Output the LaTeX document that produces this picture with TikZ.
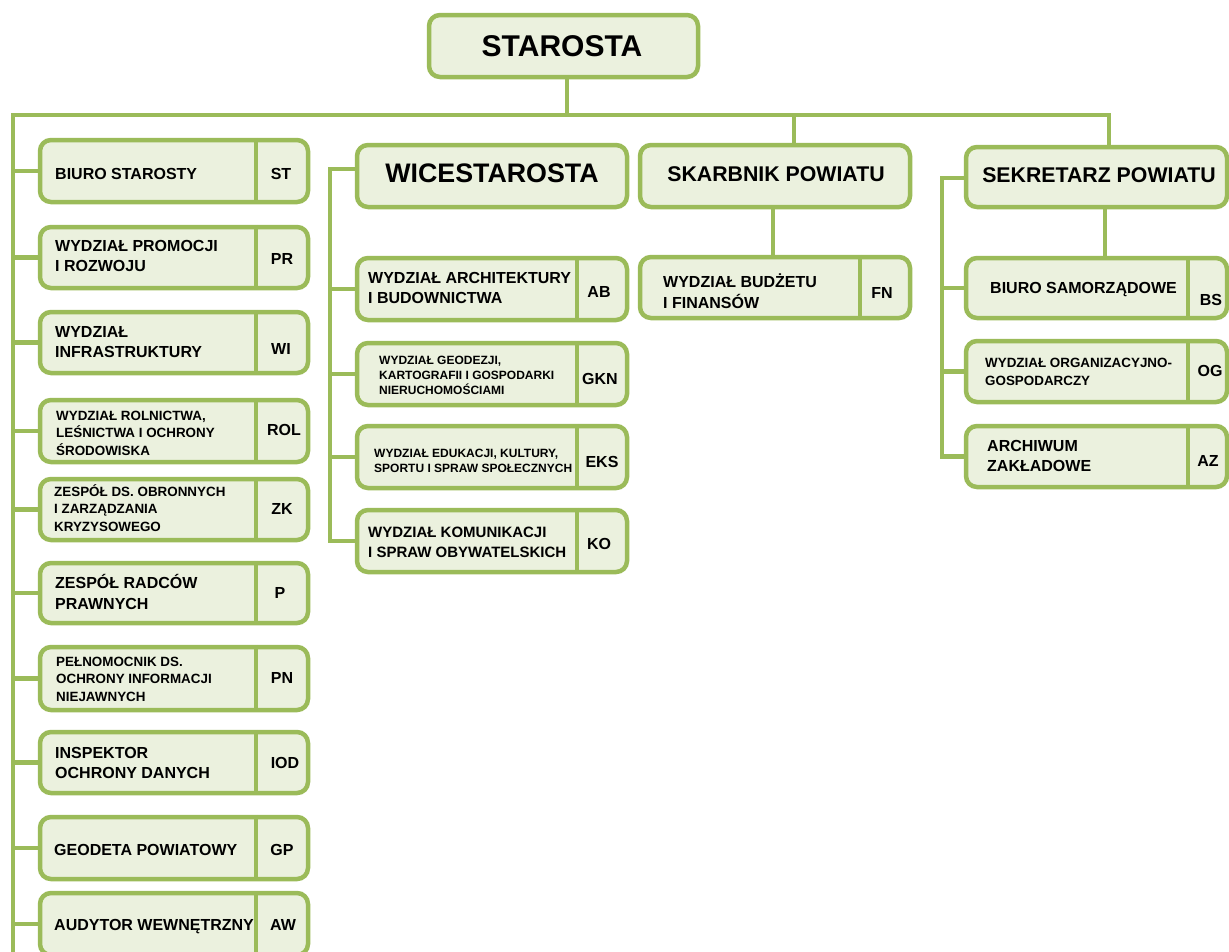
\documentclass[tikz,border=0pt]{standalone}
\usepackage{fontspec}
\setmainfont{Liberation Sans}
\definecolor{grn}{HTML}{9BBB59}
\definecolor{pale}{HTML}{EBF1DE}
\newcommand\orgfL{\bfseries\fontsize{16}{20.5}\selectfont}
\newcommand\orgfS{\bfseries\fontsize{13.4}{17.5}\selectfont}
\newcommand\orgfXS{\bfseries\fontsize{12}{15}\selectfont}
\tikzset{
 boxsty/.style={draw=grn, fill=pale, line width=4.5pt, rounded corners=11pt, inner sep=0pt},
 conn/.style={draw=grn, line width=4.5pt, line join=miter},
 divsty/.style={draw=grn, line width=4.5pt},
 lbl/.style={anchor=west, align=left, inner sep=0pt},
 abb/.style={inner sep=0pt, font=\bfseries\fontsize{16}{18}\selectfont},
 head/.style={inner sep=0pt},
}
\newcommand\orgbox[5]{\node[boxsty, minimum width={#4pt-#2pt}, minimum height={#5pt-#3pt}] (#1) at ({(#2+#4)/2},{(#3+#5)/2}) {};}
\newcommand\orgdiv[2]{\draw[divsty] (#2,0 |- #1.north) -- (#2,0 |- #1.south);}
\begin{document}
\begin{tikzpicture}[x=1pt,y=-1pt]
\useasboundingbox (0,0) rectangle (1229,951);
\clip (0,0) rectangle (1229,951);
% junction coordinates
\coordinate (barL) at (13,115);
\coordinate (barR) at (1109,115);
\coordinate (spineEnd) at (13,960);
\coordinate (wiceSpine) at (330,169);
\coordinate (sekrSpine) at (942,178);

% ---------- top ----------
\orgbox{staro}{429}{15}{698}{77}
\node[head, font=\bfseries\fontsize{30}{32}\selectfont] (starot) at (562,46) {STAROSTA};

% ---------- left column ----------
\orgbox{st}{40}{140}{308}{202}\orgdiv{st}{256}
\node[lbl, font=\orgfL] (stt) at (55,174) {BIURO STAROSTY};
\node[abb] (sta) at (281,174) {ST};

\orgbox{pr}{40}{227}{308}{288}\orgdiv{pr}{256}
\node[lbl, font=\orgfL] (prt) at (55,256) {WYDZIAŁ PROMOCJI\\I ROZWOJU};
\node[abb] (pra) at (282,259) {PR};

\orgbox{wi}{40}{312}{308}{373}\orgdiv{wi}{256}
\node[lbl, font=\orgfL] (wit) at (55,342) {WYDZIAŁ\\INFRASTRUKTURY};
\node[abb] (wia) at (281,349) {WI};

\orgbox{rol}{40}{400}{308}{462}\orgdiv{rol}{256}
\node[lbl, font=\orgfS] (rolt) at (56,433) {WYDZIAŁ ROLNICTWA,\\LEŚNICTWA I OCHRONY\\ŚRODOWISKA};
\node[abb] (rola) at (284,430) {ROL};

\orgbox{zk}{40}{479}{308}{540}\orgdiv{zk}{256}
\node[lbl, font=\orgfS] (zkt) at (54,508) {ZESPÓŁ DS. OBRONNYCH\\I ZARZĄDZANIA\\KRYZYSOWEGO};
\node[abb] (zka) at (282,509) {ZK};

\orgbox{p}{40}{563}{308}{623}\orgdiv{p}{256}
\node[lbl, font=\orgfL] (pt) at (55,592) {ZESPÓŁ RADCÓW\\PRAWNYCH};
\node[abb] (pa) at (280,593) {P};

\orgbox{pn}{40}{647}{308}{710}\orgdiv{pn}{256}
\node[lbl, font=\orgfS] (pnt) at (56,679) {PEŁNOMOCNIK DS.\\OCHRONY INFORMACJI\\NIEJAWNYCH};
\node[abb] (pna) at (282,678) {PN};

\orgbox{iod}{40}{732}{308}{793}\orgdiv{iod}{256}
\node[lbl, font=\orgfL] (iodt) at (55,763) {INSPEKTOR\\OCHRONY DANYCH};
\node[abb] (ioda) at (285,763) {IOD};

\orgbox{gp}{40}{817}{308}{879}\orgdiv{gp}{256}
\node[lbl, font=\orgfL] (gpt) at (54,850) {GEODETA POWIATOWY};
\node[abb] (gpa) at (282,850) {GP};

\orgbox{aw}{40}{893}{308}{955}\orgdiv{aw}{256}
\node[lbl, font=\orgfL] (awt) at (54,927) {AUDYTOR WEWNĘTRZNY};
\node[abb] (awa) at (283,925) {AW};

% ---------- WICESTAROSTA column ----------
\orgbox{wice}{357}{145}{627}{207}
\node[head, font=\bfseries\fontsize{26.8}{30}\selectfont] (wicet) at (492,173) {WICESTAROSTA};

\orgbox{ab}{357}{258}{627}{320}\orgdiv{ab}{577}
\node[lbl, font=\orgfL] (abt) at (368,288) {WYDZIAŁ ARCHITEKTURY\\I BUDOWNICTWA};
\node[abb] (aba) at (599,292) {AB};

\orgbox{gkn}{357}{343}{627}{405}\orgdiv{gkn}{577}
\node[lbl, font=\orgfXS] (gknt) at (379,375) {WYDZIAŁ GEODEZJI,\\KARTOGRAFII I GOSPODARKI\\NIERUCHOMOŚCIAMI};
\node[abb] (gkna) at (600,379) {GKN};

\orgbox{eks}{357}{426}{627}{488}\orgdiv{eks}{577}
\node[lbl, font=\orgfXS] (ekst) at (374,461) {WYDZIAŁ EDUKACJI, KULTURY,\\SPORTU I SPRAW SPOŁECZNYCH};
\node[abb] (eksa) at (602,462) {EKS};

\orgbox{ko}{357}{510}{627}{572}\orgdiv{ko}{577}
\node[lbl, font=\bfseries\fontsize{15}{20}\selectfont] (kot) at (368,542) {WYDZIAŁ KOMUNIKACJI\\I SPRAW OBYWATELSKICH};
\node[abb] (koa) at (599,544) {KO};

% ---------- SKARBNIK column ----------
\orgbox{skarb}{640}{145}{910}{207}
\node[head, font=\bfseries\fontsize{21.3}{25}\selectfont] (skarbt) at (776,174) {SKARBNIK POWIATU};

\orgbox{fn}{640}{257}{910}{318}\orgdiv{fn}{860}
\node[lbl, font=\orgfL] (fnt) at (663,291) {WYDZIAŁ BUDŻETU\\I FINANSÓW};
\node[abb] (fna) at (882,293) {FN};

% ---------- SEKRETARZ column ----------
\orgbox{sekr}{966}{147}{1227}{207}
\node[head, font=\bfseries\fontsize{21.3}{25}\selectfont] (sekrt) at (1099,175) {SEKRETARZ POWIATU};

\orgbox{bs}{966}{258}{1227}{318}\orgdiv{bs}{1188}
\node[lbl, font=\orgfL] (bst) at (990,290) {BIURO SAMORZĄDOWE};
\node[abb] (bsa) at (1211,300) {BS};

\orgbox{og}{966}{341}{1227}{402}\orgdiv{og}{1188}
\node[lbl, font=\bfseries\fontsize{13.4}{18}\selectfont] (ogt) at (985,372) {WYDZIAŁ ORGANIZACYJNO-\\GOSPODARCZY};
\node[abb] (oga) at (1210,371) {OG};

\orgbox{az}{966}{426}{1227}{487}\orgdiv{az}{1188}
\node[lbl, font=\orgfL] (azt) at (987,456) {ARCHIWUM\\ZAKŁADOWE};
\node[abb] (aza) at (1208,461) {AZ};

% ---------- connectors ----------
\draw[conn] (567,0 |- staro.south) -- (567,0 |- barL);
\draw[conn] (spineEnd) -- (barL) -- (barR) -- (barR |- sekr.north);
\draw[conn] (794,0 |- barL) -- (794,0 |- skarb.north);
\foreach \n in {st,pr,wi,rol,zk,p,pn,iod,gp,aw}{
  \draw[conn] (barL |- \n.west) -- (\n.west);
}
% WICESTAROSTA
\draw[conn] (wice.west |- wiceSpine) -- (wiceSpine) -- (wiceSpine |- ko.west) -- (ko.west);
\foreach \n in {ab,gkn,eks}{
  \draw[conn] (wiceSpine |- \n.west) -- (\n.west);
}
% SKARBNIK
\draw[conn] (773,0 |- skarb.south) -- (773,0 |- fn.north);
% SEKRETARZ
\draw[conn] (sekr.west |- sekrSpine) -- (sekrSpine) -- (sekrSpine |- az.west) -- (az.west);
\foreach \n in {bs,og}{
  \draw[conn] (sekrSpine |- \n.west) -- (\n.west);
}
\draw[conn] (1105,0 |- sekr.south) -- (1105,0 |- bs.north);
\end{tikzpicture}
\end{document}
